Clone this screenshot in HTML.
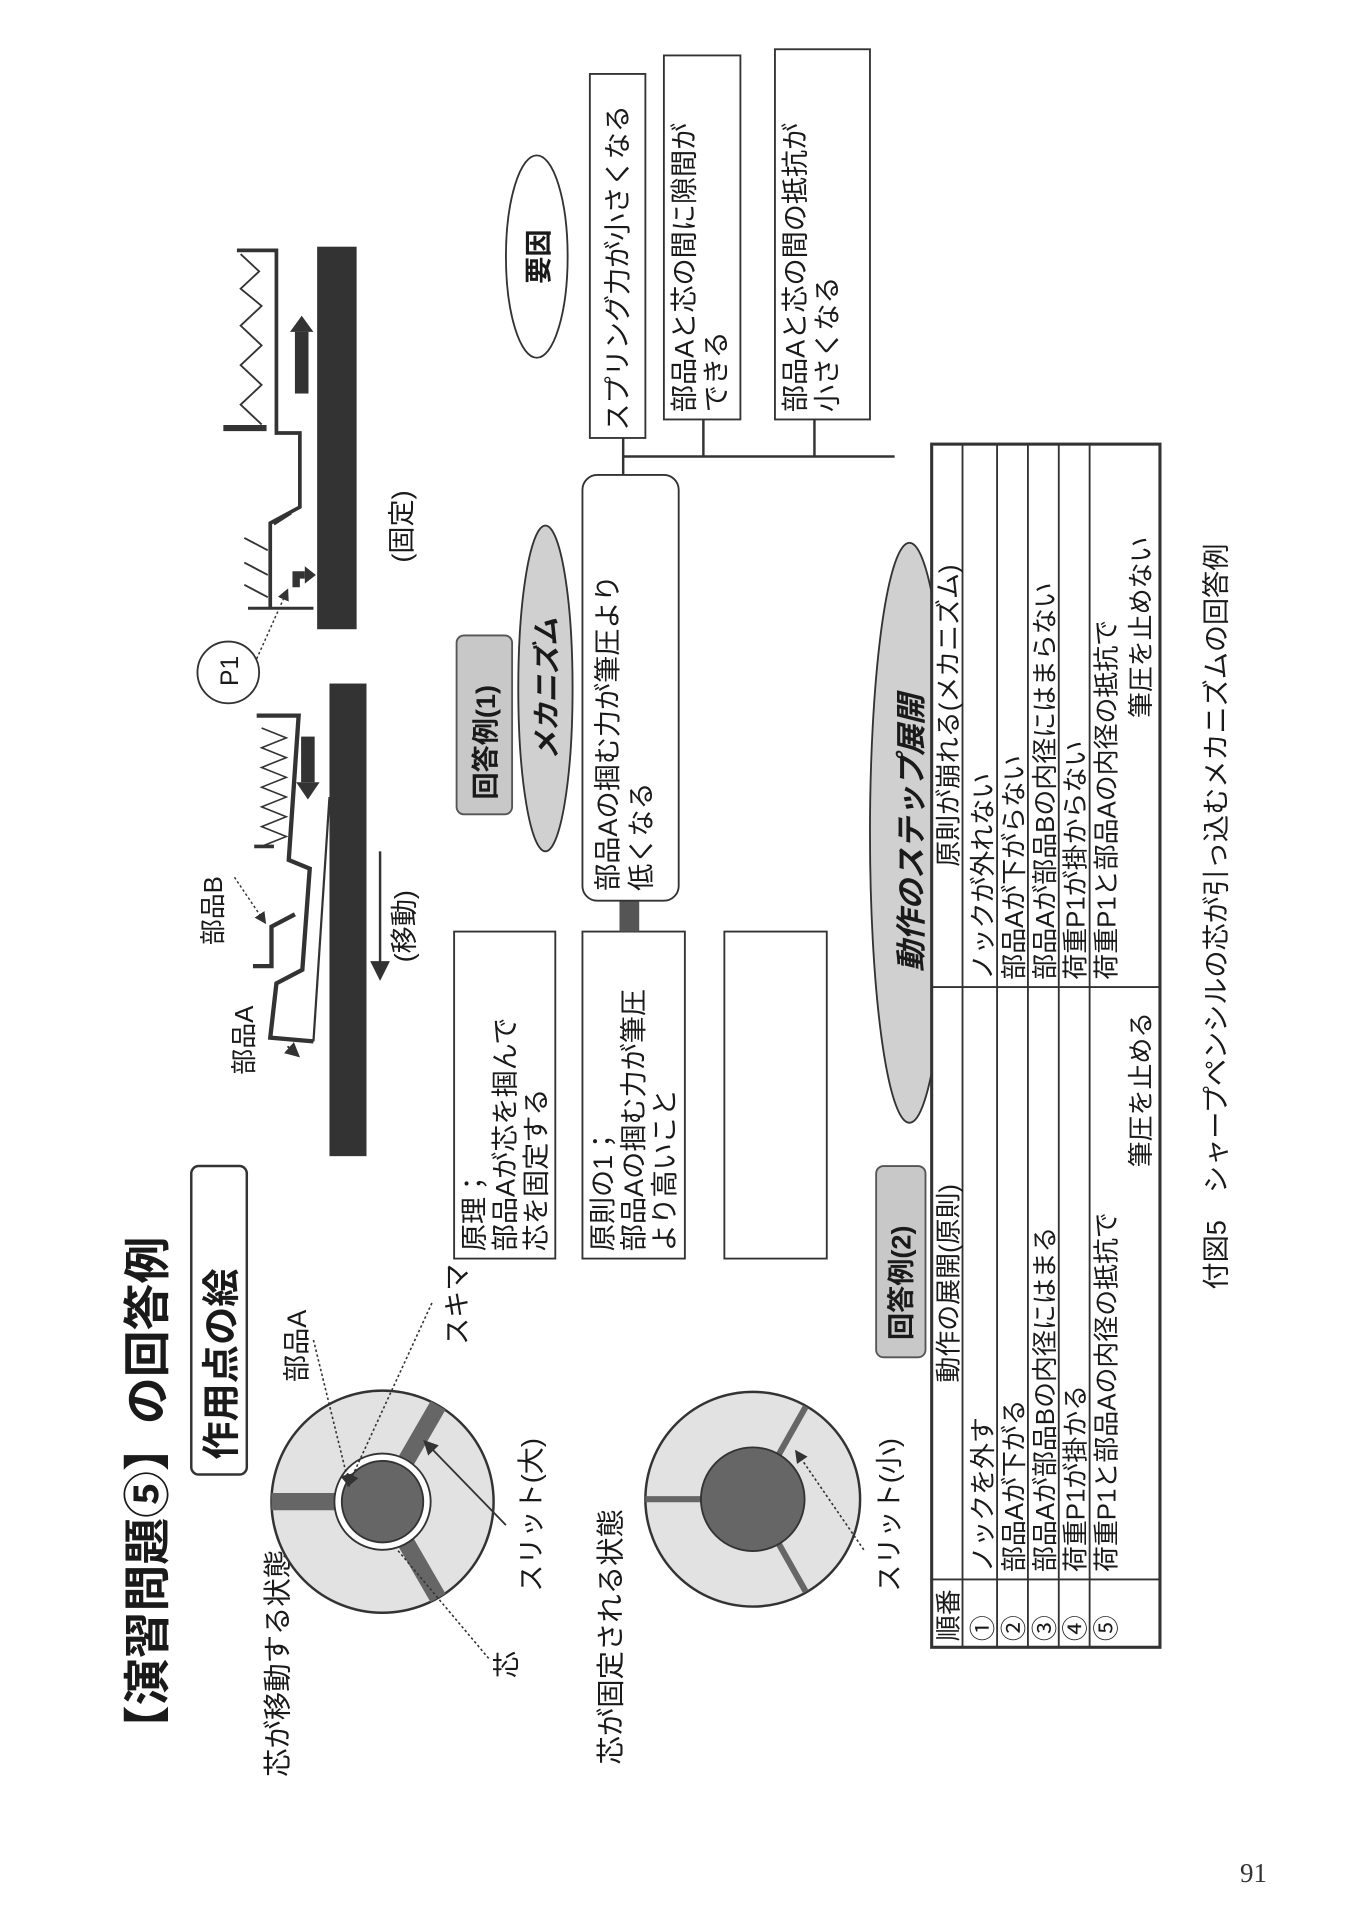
<!DOCTYPE html>
<html><head><meta charset="utf-8"><style>
html,body{margin:0;padding:0;background:#fff;}
body{width:1357px;height:1920px;position:relative;overflow:hidden;}
#land{position:absolute;left:0;top:0;width:1556px;height:1100px;transform-origin:0 0;transform:translateY(1920px) rotate(-90deg) scale(1.234);}
svg text{font-family:"Liberation Sans","Noto Sans CJK JP",sans-serif;fill:#1a1a1a;}
#pg{position:absolute;left:1240px;top:1858px;font-family:"Liberation Serif",serif;font-size:27px;color:#333;}
</style></head><body>
<div id="land">
<svg width="1556" height="1100" viewBox="0 0 1556 1100" xmlns="http://www.w3.org/2000/svg">
<defs>
<marker id="ah" markerWidth="8" markerHeight="8" refX="7" refY="4" orient="auto"><path d="M0,0 L8,4 L0,8 z" fill="#333"/></marker>
</defs>
<!-- Title -->
<text x="136" y="133" font-size="38" font-weight="bold">【演習問題⑤】の回答例</text>
<rect x="361" y="155" width="250" height="45" rx="6" fill="#fff" stroke="#333" stroke-width="2"/>
<text x="373" y="190" font-size="31" font-weight="bold">作用点の絵</text>
<text x="116" y="233" font-size="23">芯が移動する状態</text>
<!-- circle 1 -->
<circle cx="339" cy="310" r="90" fill="#e2e2e2" stroke="#333" stroke-width="2"/>
<g stroke="#666" stroke-width="14">
<line x1="339" y1="272" x2="339" y2="220"/>
<line x1="372" y1="329" x2="417" y2="355"/>
<line x1="306" y1="329" x2="261" y2="355"/>
</g>
<circle cx="339" cy="310" r="39" fill="#fff" stroke="#333" stroke-width="1.5"/>
<circle cx="339" cy="310" r="33" fill="#666" stroke="#333" stroke-width="1.5"/>
<text x="436" y="248" font-size="22">部品A</text>
<text x="466" y="378" font-size="22">スキマ</text>
<text x="266" y="438" font-size="22">スリット(大)</text>
<text x="196" y="418" font-size="22">芯</text>
<line x1="470" y1="254" x2="352" y2="283" stroke="#333" stroke-width="1.3" stroke-dasharray="2,2" marker-end="url(#ah)"/>
<line x1="500" y1="350" x2="352" y2="282" stroke="#333" stroke-width="1.3" stroke-dasharray="2,2" marker-end="url(#ah)"/>
<line x1="320" y1="410" x2="388" y2="344" stroke="#333" stroke-width="1.5" marker-end="url(#ah)"/>
<line x1="212" y1="396" x2="300" y2="322" stroke="#333" stroke-width="1.3" stroke-dasharray="2,2"/>
<!-- circle 2 -->
<text x="126" y="503" font-size="23">芯が固定される状態</text>
<circle cx="341" cy="610" r="87" fill="#e2e2e2" stroke="#333" stroke-width="2"/>
<g stroke="#666" stroke-width="5">
<line x1="341" y1="570" x2="341" y2="523"/>
<line x1="377" y1="631" x2="416" y2="653"/>
<line x1="305" y1="631" x2="266" y2="653"/>
</g>
<circle cx="341" cy="610" r="42" fill="#666" stroke="#333" stroke-width="1.5"/>
<text x="266" y="728" font-size="22">スリット(小)</text>
<line x1="300" y1="700" x2="380" y2="645" stroke="#333" stroke-width="1.3" stroke-dasharray="2,2" marker-end="url(#ah)"/>
<!-- pencil 1 (moving) -->
<rect x="619" y="267" width="383" height="30" fill="#333"/>
<polyline points="976,208 976,242 859,234 852,251 770,245 759,224 715,219 712,254" fill="none" stroke="#333" stroke-width="3.5"/>
<line x1="712" y1="254" x2="910" y2="267" stroke="#333" stroke-width="1.8"/>
<polyline points="966,212 958,232 950,212 942,232 934,212 926,232 918,212 910,232 902,212 894,232 886,212 878,232 870,212" fill="none" stroke="#333" stroke-width="1.3"/>
<line x1="870" y1="206" x2="870" y2="222" stroke="#333" stroke-width="3"/>
<rect x="922" y="244" width="37" height="11" fill="#333"/><path d="M922,240 L908,249.5 L922,259 z" fill="#333"/>
<polyline points="773,205 773,220 805,220 815,239" fill="none" stroke="#333" stroke-width="3.5"/>
<line x1="845" y1="190" x2="808" y2="215" stroke="#333" stroke-width="1.2" stroke-dasharray="2,2" marker-end="url(#ah)"/>
<line x1="708" y1="233" x2="700" y2="242" stroke="#333" stroke-width="1.5" marker-end="url(#ah)"/>
<text x="685" y="205" font-size="21">部品A</text>
<text x="790" y="180" font-size="21">部品B</text>
<line x1="866" y1="308" x2="763" y2="308" stroke="#333" stroke-width="2" marker-end="url(#ah)"/>
<text x="776" y="335" font-size="22">(移動)</text>
<!-- pencil 2 (fixed) -->
<rect x="1046" y="257" width="310" height="32" fill="#333"/>
<polyline points="1353,192 1353,224 1205,224 1205,243 1145,243 1132,219 1064,219" fill="none" stroke="#333" stroke-width="3"/>
<line x1="1140" y1="236" x2="1131" y2="222" stroke="#333" stroke-width="2"/>
<line x1="1063" y1="201" x2="1063" y2="254" stroke="#333" stroke-width="2.5"/>
<g stroke="#333" stroke-width="1.5"><line x1="1120" y1="198" x2="1110" y2="217"/><line x1="1100" y1="198" x2="1090" y2="217"/><line x1="1082" y1="198" x2="1072" y2="217"/></g>
<line x1="1209" y1="181" x2="1209" y2="216" stroke="#333" stroke-width="5"/>
<polyline points="1350,195 1336,210 1322,195 1308,212 1292,195 1276,212 1260,195 1244,212 1228,195 1212,212" fill="none" stroke="#333" stroke-width="1.5"/>
<rect x="1237" y="239" width="50" height="11" fill="#333"/><path d="M1287,235 L1300,244.5 L1287,254 z" fill="#333"/>
<path d="M1080,240 L1090,240 L1090,247" fill="none" stroke="#333" stroke-width="6"/><path d="M1083,247 L1090,256 L1097,247 z" fill="#333"/>
<circle cx="1011" cy="185" r="25" fill="#fff" stroke="#333" stroke-width="1.5"/>
<text x="1000" y="193" font-size="20">P1</text>
<line x1="1022" y1="208" x2="1078" y2="233" stroke="#333" stroke-width="1.2" stroke-dasharray="2,2" marker-end="url(#ah)"/>
<text x="1100" y="333" font-size="22">(固定)</text>
<!-- middle boxes -->
<rect x="536" y="368" width="265" height="82" fill="#fff" stroke="#333" stroke-width="1.5"/>
<text font-size="22"><tspan x="542" y="392">原理；</tspan><tspan x="542" y="417">部品Aが芯を掴んで</tspan><tspan x="542" y="442">芯を固定する</tspan></text>
<rect x="536" y="472" width="265" height="83" fill="#fff" stroke="#333" stroke-width="1.5"/>
<text font-size="22"><tspan x="542" y="496">原則の1；</tspan><tspan x="542" y="521">部品Aの掴む力が筆圧</tspan><tspan x="542" y="546">より高いこと</tspan></text>
<rect x="536" y="587" width="265" height="83" fill="#fff" stroke="#333" stroke-width="1.5"/>
<rect x="801" y="502" width="25" height="16" fill="#555"/>
<rect x="826" y="472" width="345" height="78" rx="12" fill="#fff" stroke="#333" stroke-width="1.5"/>
<text font-size="22"><tspan x="834" y="500">部品Aの掴む力が筆圧より</tspan><tspan x="834" y="527">低くなる</tspan></text>
<rect x="896" y="370" width="145" height="45" rx="6" fill="#c8c8c8" stroke="#555" stroke-width="1.5"/>
<text x="908" y="401" font-size="22" font-weight="bold">回答例(1)</text>
<ellipse cx="998" cy="442" rx="132" ry="22" fill="#d0d0d0" stroke="#333" stroke-width="1.5"/>
<text x="998" y="451" font-size="23" font-weight="bold" font-style="italic" text-anchor="middle">メカニズム</text>
<ellipse cx="1348" cy="435" rx="82" ry="25" fill="#fff" stroke="#333" stroke-width="1.5"/>
<text x="1348" y="444" font-size="22" font-weight="bold" text-anchor="middle">要因</text>
<!-- right boxes -->
<rect x="1201" y="478" width="295" height="45" fill="#fff" stroke="#333" stroke-width="1.5"/>
<text x="1207" y="508" font-size="22">スプリング力が小さくなる</text>
<rect x="1216" y="538" width="295" height="62" fill="#fff" stroke="#333" stroke-width="1.5"/>
<text font-size="22"><tspan x="1222" y="562">部品Aと芯の間に隙間が</tspan><tspan x="1222" y="588">できる</tspan></text>
<rect x="1216" y="628" width="300" height="77" fill="#fff" stroke="#333" stroke-width="1.5"/>
<text font-size="22"><tspan x="1222" y="652">部品Aと芯の間の抵抗が</tspan><tspan x="1222" y="678">小さくなる</tspan></text>
<g stroke="#333" stroke-width="2">
<line x1="1171" y1="505" x2="1201" y2="505"/>
<line x1="1186" y1="505" x2="1186" y2="725"/>
<line x1="1186" y1="570" x2="1216" y2="570"/>
<line x1="1186" y1="660" x2="1216" y2="660"/>
</g>
<!-- step -->
<ellipse cx="881" cy="737" rx="235" ry="32" fill="#d0d0d0" stroke="#333" stroke-width="1.5"/>
<text x="881" y="747" font-size="25" font-weight="bold" font-style="italic" text-anchor="middle">動作のステップ展開</text>
<rect x="456" y="710" width="155" height="40" rx="6" fill="#c8c8c8" stroke="#555" stroke-width="1.5"/>
<text x="470" y="738" font-size="22" font-weight="bold">回答例(2)</text>
<!-- table -->
<rect x="221" y="755" width="975" height="185" fill="#fff" stroke="#333" stroke-width="2.5"/>
<g stroke="#333" stroke-width="1.5">
<line x1="276" y1="755" x2="276" y2="940"/>
<line x1="756" y1="755" x2="756" y2="940"/>
<line x1="221" y1="780" x2="1196" y2="780"/>
<line x1="221" y1="808" x2="1196" y2="808"/>
<line x1="221" y1="833" x2="1196" y2="833"/>
<line x1="221" y1="858" x2="1196" y2="858"/>
<line x1="221" y1="883" x2="1196" y2="883"/>
</g>
<g font-size="21">
<text x="226" y="776">順番</text>
<text x="516" y="776" text-anchor="middle">動作の展開(原則)</text>
<text x="976" y="776" text-anchor="middle">原則が崩れる(メカニズム)</text>
<text x="226" y="804">①</text><text x="282" y="804">ノックを外す</text><text x="762" y="804">ノックが外れない</text>
<text x="226" y="829">②</text><text x="282" y="829">部品Aが下がる</text><text x="762" y="829">部品Aが下がらない</text>
<text x="226" y="854">③</text><text x="282" y="854">部品Aが部品Bの内径にはまる</text><text x="762" y="854">部品Aが部品Bの内径にはまらない</text>
<text x="226" y="879">④</text><text x="282" y="879">荷重P1が掛かる</text><text x="762" y="879">荷重P1が掛からない</text>
<text x="226" y="904">⑤</text><text x="282" y="904">荷重P1と部品Aの内径の抵抗で</text><text x="762" y="904">荷重P1と部品Aの内径の抵抗で</text>
<text x="736" y="932" text-anchor="end">筆圧を止める</text><text x="1121" y="932" text-anchor="end">筆圧を止めない</text>
</g>
<text x="511" y="993" font-size="22">付図5　シャープペンシルの芯が引っ込むメカニズムの回答例</text>
</svg>
</div>
<div id="pg">91</div>
</body></html>
